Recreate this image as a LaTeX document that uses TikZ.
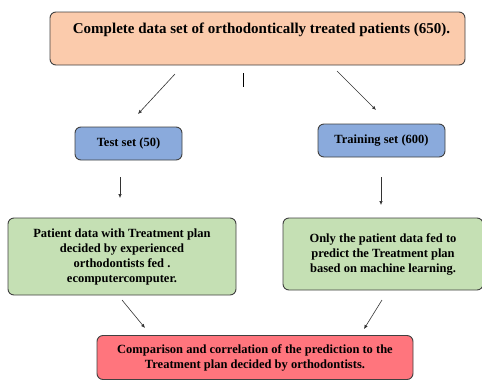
\documentclass[tikz,border=0pt]{standalone}
\usepackage{fontspec}
\setmainfont{Liberation Serif}
\usetikzlibrary{arrows.meta}

\definecolor{cfcc9a9}{RGB}{251,203,172}
\definecolor{c8aaadc}{RGB}{138,170,220}
\definecolor{cc5e0b4}{RGB}{197,224,180}
\definecolor{cff757d}{RGB}{255,117,125}
\definecolor{c404040}{RGB}{64,64,64}

\tikzset{
  box/.style={draw=c404040, line width=0.9pt, rounded corners=6pt, align=center,
    inner sep=0pt, font=\bfseries\fontsize{12.5}{15}\selectfont},
  link/.style={draw=black!80, line width=0.6pt, -{Latex[length=4pt,width=3.5pt]}}
}

\begin{document}
\begin{tikzpicture}[y=1pt, x=1pt, yscale=-1]
  \useasboundingbox (0,0) rectangle (482,381);

  % boxes
  \node[box, fill=cfcc9a9, minimum width=415pt, minimum height=53pt,
    font=\bfseries\fontsize{15}{16}\selectfont, text height=11pt, text depth=22pt]
    (data) at (257.5,38.5) {\hspace*{8pt}Complete data set of orthodontically treated patients (650).};
  \node[box, fill=c8aaadc, minimum width=107pt, minimum height=33pt] (test) at (128.5,143.5) {Test set (50)};
  \node[box, fill=c8aaadc, minimum width=127pt, minimum height=33pt] (train) at (381.5,140.5) {Training set (600)};
  \node[box, fill=cc5e0b4, minimum width=228pt, minimum height=77pt] (given) at (122,256.5)
    {Patient data with Treatment plan\\decided by experienced\\orthodontists fed .\\ecomputercomputer.};
  \node[box, fill=cc5e0b4, minimum width=200pt, minimum height=72pt] (pred) at (383,254)
    {Only the patient data fed to\\predict the Treatment plan\\based on machine learning.};
  \node[box, fill=cff757d, minimum width=316pt, minimum height=44pt] (comp) at (255,357.5)
    {Comparison and correlation of the prediction to the\\Treatment plan decided by orthodontists.};

  % arrow ends
  \coordinate (d1) at (175,74);   \coordinate (t1) at (138,114);
  \coordinate (d2) at (337,71);   \coordinate (r1) at (376,110);
  \coordinate (d3) at (243,73);   \coordinate (d4) at (243,87);
  \coordinate (t2) at (120,177);  \coordinate (g1) at (120,198);
  \coordinate (r2) at (381,177);  \coordinate (p1) at (381,205);
  \coordinate (g2) at (122,300);  \coordinate (c1) at (145,328);
  \coordinate (p2) at (382,300);  \coordinate (c2) at (364,329);

  \path[link] (d1) -- (t1);
  \path[link] (d2) -- (r1);
  \path[draw=black, line width=0.9pt] (d3) -- (d4);
  \path[link] (t2) -- (g1);
  \path[link] (r2) -- (p1);
  \path[link] (g2) -- (c1);
  \path[link] (p2) -- (c2);
\end{tikzpicture}
\end{document}
